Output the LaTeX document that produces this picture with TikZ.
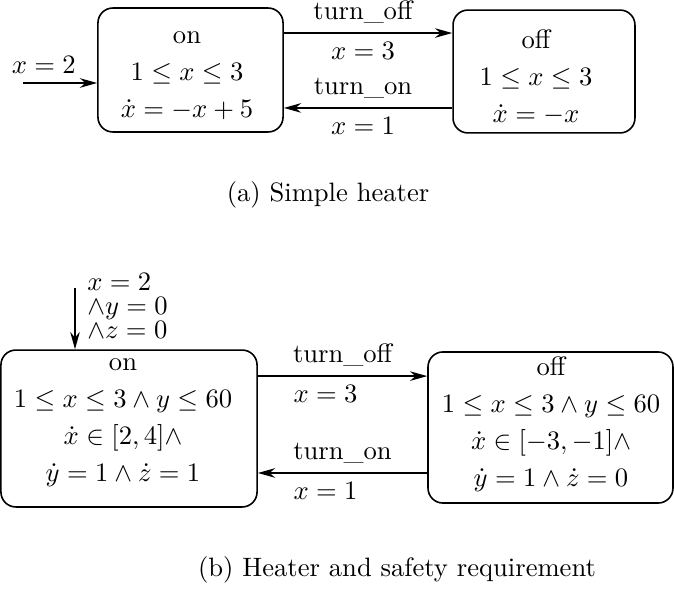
\documentclass[tikz,border=0pt]{standalone}
\usetikzlibrary{arrows.meta}
\begin{document}
\begin{tikzpicture}[x=0.376pt, y=-0.376pt, >={Stealth[length=6.5pt,width=3.6pt]},
    state/.style={draw, semithick, rounded corners=5.6pt, inner sep=0pt},
    body/.style={align=center, font=\fontsize{10}{13.9}\selectfont}]
        \useasboundingbox (0,0) rectangle (674,589);
        \node[state, minimum width=69.6pt, minimum height=46.6pt] (onA) at (190.5,70) {};
        \node[state, minimum width=68.4pt, minimum height=46.2pt] (offA) at (544,71.5) {};
        \node[body] (onAtxt) at (187,76) {on\\$1\leq x\leq 3$\\$\dot x=-x+5$};
        \node[body] (offAtxt) at (536,77.5) {off\\$1\leq x\leq 3$\\$\dot x=-x$};
        \coordinate (initA) at (23,83);
        \draw[->, semithick] (initA) -- (onA.west |- initA) node[above, pos=0.28] {$x=2$};
        \draw[->, semithick] ([yshift=13.9pt]onA.east) -- ([yshift=13.9pt]onA.east -| offA.west)
            node[above, pos=0.47] {turn\_off} node[below, pos=0.47] {$x=3$};
        \draw[->, semithick] ([yshift=-13.7pt]offA.west) -- ([yshift=-13.7pt]offA.west -| onA.east)
            node[above, pos=0.53] {turn\_on} node[below, pos=0.53] {$x=1$};
        \node (capA) at (328,195) {(a) Simple heater};
        \node[state, minimum width=96.3pt, minimum height=59pt] (onB) at (129,428.5) {};
        \node[state, minimum width=92.1pt, minimum height=56.8pt] (offB) at (550.5,427.5) {};
        \node[body] (onBtxt) at (123,423) {on\\$1\leq x\leq 3\wedge y\leq 60$\\$\dot x\in[2,4]\wedge$\\$\dot y=1\wedge\dot z=1$};
        \node[body] (offBtxt) at (551,424) {off\\$1\leq x\leq 3\wedge y\leq 60$\\$\dot x\in[-3,-1]\wedge$\\$\dot y=1\wedge\dot z=0$};
        \coordinate (initB) at (75,288);
        \draw[->, semithick] (initB) -- (initB |- onB.north)
            node[right, pos=0.29, xshift=1pt, align=left, font=\fontsize{10}{9}\selectfont] {$x=2$\\$\wedge y=0$\\$\wedge z=0$};
        \draw[->, semithick] ([yshift=19.7pt]onB.east) -- ([yshift=19.7pt]onB.east -| offB.west)
            node[above, pos=0.5] {turn\_off} node[below, pos=0.4] {$x=3$};
        \draw[->, semithick] ([yshift=-17.1pt]offB.west) -- ([yshift=-17.1pt]offB.west -| onB.east)
            node[above, pos=0.5] {turn\_on} node[below, pos=0.6] {$x=1$};
        \node (capB) at (397,570) {(b) Heater and safety requirement};
      \end{tikzpicture}
\end{document}
